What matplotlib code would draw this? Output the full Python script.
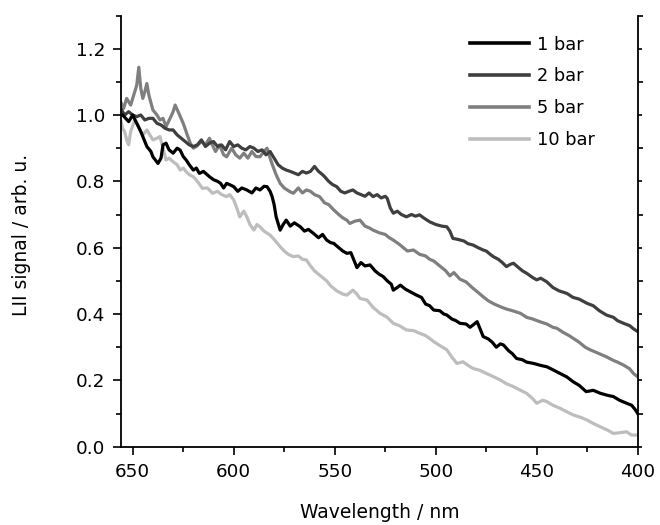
import matplotlib
matplotlib.use("Agg")
import matplotlib.pyplot as plt
from matplotlib.ticker import MultipleLocator

plt.rcParams['font.family'] = ['DejaVu Sans']

labels = ["1 bar", "2 bar", "5 bar", "10 bar"]
colors = ["#000000", "#3f3f3f", "#7f7f7f", "#bdbdbd"]

wl_1bar = [655, 652, 650, 648, 646, 643, 641, 640, 637.5, 636, 635, 633.5, 632, 630, 628, 626.5, 625, 623.5, 622, 620,
           618.5, 617, 615, 612, 610, 608, 606.5, 605, 603.5, 602, 600, 598, 596, 593.5, 591, 589, 587, 585, 583.5, 582,
           581, 580, 579, 577, 575.5, 574, 572, 570, 567, 565, 563, 560.5, 558, 556, 554, 552, 550.5, 548, 546, 544,
           542, 539, 537, 535, 532.5, 530, 528, 526, 524, 522, 521, 519, 517.5, 515, 512, 509.5, 507, 505, 503, 501,
           498, 496, 494.5, 492, 490, 488, 485, 483, 481.5, 479.5, 478, 476.5, 474, 472, 470, 468, 466.5, 464, 462, 460,
           457, 455, 451.5, 448, 445, 442, 438.5, 435, 432, 429, 425.5, 422, 418.5, 415, 412, 409, 405.5, 403, 401, 400]
sig_1bar = [1.00, 0.98, 1.00, 0.975, 0.95, 0.905, 0.89, 0.874, 0.854, 0.87, 0.91, 0.915, 0.895, 0.885, 0.90, 0.894, 0.875, 0.864, 0.85, 0.834,
            0.84, 0.824, 0.83, 0.814, 0.805, 0.80, 0.794, 0.78, 0.794, 0.79, 0.784, 0.77, 0.78, 0.774, 0.765, 0.78, 0.774, 0.785, 0.784, 0.77,
            0.754, 0.73, 0.693, 0.653, 0.67, 0.683, 0.665, 0.675, 0.663, 0.65, 0.655, 0.643, 0.63, 0.64, 0.623, 0.615, 0.613, 0.60, 0.59, 0.583,
            0.585, 0.54, 0.555, 0.545, 0.548, 0.53, 0.52, 0.513, 0.50, 0.49, 0.472, 0.48, 0.487, 0.475, 0.465, 0.457, 0.45, 0.43, 0.425, 0.412,
            0.41, 0.40, 0.397, 0.385, 0.38, 0.372, 0.37, 0.36, 0.367, 0.377, 0.355, 0.332, 0.325, 0.315, 0.30, 0.31, 0.307, 0.29, 0.28, 0.266,
            0.262, 0.255, 0.251, 0.245, 0.241, 0.232, 0.221, 0.21, 0.196, 0.185, 0.166, 0.17, 0.161, 0.155, 0.151, 0.14, 0.131, 0.125, 0.11, 0.10]

wl_2bar = [656, 654, 652, 650, 648, 646, 644, 642, 640, 638, 636, 634, 632, 630, 628, 626, 624, 622, 620, 618,
           616, 614, 612, 610, 608, 606, 604, 602, 600, 598, 596, 594, 592, 590, 588, 586, 584, 582, 580, 578,
           576, 574, 572, 570, 568, 566, 564, 562, 560, 558, 556, 555, 553, 551, 549, 547, 545, 543, 541, 539,
           537, 535, 533, 531, 529, 527, 525, 524, 522.5, 521, 519, 517, 514.5, 512, 510, 508, 506, 503, 500, 497,
           494.5, 493, 491.5, 489, 486, 484, 481.5, 479, 476.5, 475, 473, 471.5, 469, 467, 465, 463, 461.5, 459, 457, 455,
           452, 450, 448, 445, 442, 439, 435, 432, 429, 425, 422, 419, 415.5, 412, 410, 407, 404, 402, 400]
sig_2bar = [1.02, 1.00, 1.01, 1.00, 0.995, 1.00, 0.985, 0.99, 0.99, 0.975, 0.97, 0.96, 0.955, 0.955, 0.94, 0.93, 0.92, 0.91, 0.905, 0.91,
            0.925, 0.905, 0.915, 0.92, 0.905, 0.91, 0.895, 0.92, 0.905, 0.91, 0.90, 0.895, 0.905, 0.90, 0.89, 0.895, 0.88, 0.89, 0.87, 0.85,
            0.84, 0.834, 0.83, 0.825, 0.82, 0.83, 0.825, 0.83, 0.845, 0.83, 0.82, 0.814, 0.80, 0.79, 0.784, 0.77, 0.765, 0.77, 0.774, 0.765,
            0.76, 0.755, 0.765, 0.754, 0.76, 0.75, 0.755, 0.749, 0.72, 0.704, 0.71, 0.70, 0.693, 0.70, 0.695, 0.699, 0.69, 0.678, 0.67, 0.665,
            0.663, 0.65, 0.628, 0.625, 0.62, 0.612, 0.608, 0.60, 0.593, 0.59, 0.58, 0.573, 0.565, 0.555, 0.543, 0.55, 0.553, 0.54, 0.53, 0.523,
            0.51, 0.503, 0.508, 0.497, 0.48, 0.47, 0.462, 0.45, 0.445, 0.432, 0.425, 0.41, 0.397, 0.39, 0.38, 0.372, 0.365, 0.355, 0.347]

wl_5bar = [656, 654.5, 653, 651, 649, 648, 647, 646, 645, 644, 643, 642, 640, 638, 636.5, 635, 633.5, 631.5, 630, 629,
           627.5, 625, 623, 621.5, 620, 618.5, 616, 614, 612, 611, 609, 607, 605, 603.5, 601, 599, 597, 595, 593, 591,
           589, 587, 585, 583.5, 582, 580.5, 579, 577, 575, 572.5, 570.5, 568, 566, 564, 562, 560, 557.5, 555, 553, 550.5,
           548, 546, 544, 542.5, 540, 537.5, 535, 533, 531, 528, 525, 523, 521, 518, 516, 514, 511, 508, 505, 503,
           501, 498, 495, 493, 491, 488, 485, 482, 479, 476.5, 474, 471, 468, 465, 462, 458, 455, 452, 448.5, 445,
           442, 440, 437, 434, 432, 429, 426, 423.5, 420, 417, 415.5, 412, 410, 407, 404, 402, 400]
sig_5bar = [1.04, 1.02, 1.05, 1.03, 1.07, 1.09, 1.144, 1.08, 1.05, 1.07, 1.095, 1.06, 1.015, 1.00, 0.985, 0.99, 0.965, 0.99, 1.01, 1.03,
            1.01, 0.975, 0.94, 0.915, 0.90, 0.905, 0.92, 0.91, 0.93, 0.915, 0.89, 0.91, 0.88, 0.874, 0.90, 0.88, 0.87, 0.885, 0.87, 0.89,
            0.875, 0.874, 0.89, 0.90, 0.87, 0.844, 0.82, 0.794, 0.78, 0.77, 0.764, 0.78, 0.765, 0.774, 0.77, 0.76, 0.754, 0.735, 0.73, 0.714,
            0.70, 0.69, 0.683, 0.673, 0.68, 0.683, 0.665, 0.66, 0.653, 0.645, 0.64, 0.63, 0.623, 0.61, 0.60, 0.59, 0.593, 0.58, 0.575, 0.565,
            0.56, 0.545, 0.53, 0.515, 0.525, 0.505, 0.497, 0.48, 0.465, 0.452, 0.44, 0.43, 0.422, 0.415, 0.41, 0.402, 0.39, 0.385, 0.377, 0.37,
            0.36, 0.357, 0.345, 0.335, 0.327, 0.315, 0.30, 0.292, 0.283, 0.275, 0.271, 0.26, 0.255, 0.246, 0.235, 0.22, 0.211]

wl_10bar = [656, 655, 654, 653, 652, 651, 649, 647.5, 646, 645, 643, 641.5, 640, 638, 636.5, 635, 633.5, 632, 630, 628,
            626.5, 625, 623.5, 622, 620, 618, 615.5, 613, 610.5, 608, 606, 603.5, 602, 600, 598.5, 597, 595, 593.5, 592, 590,
            588.5, 587, 585, 582, 580, 577, 575, 573, 570.5, 568, 566, 564, 562, 560, 557, 554, 552, 549, 546, 544,
            541, 539, 537.5, 534, 531, 527.5, 524, 521, 518, 514.5, 511, 508, 505, 501, 498, 494.5, 492, 489.5, 486.5, 484,
            481.5, 478, 475, 471, 468, 465, 461.5, 458, 455, 452, 450, 447, 445, 442, 438.5, 435, 432, 428, 425, 422,
            418.5, 415, 412, 409, 405.5, 403, 400]
sig_10bar = [0.985, 0.96, 0.95, 0.925, 0.91, 0.95, 0.985, 0.97, 0.95, 0.94, 0.955, 0.94, 0.925, 0.93, 0.935, 0.90, 0.864, 0.87, 0.859, 0.85,
             0.834, 0.84, 0.829, 0.82, 0.814, 0.80, 0.779, 0.78, 0.764, 0.77, 0.76, 0.754, 0.76, 0.744, 0.72, 0.693, 0.71, 0.693, 0.67, 0.653,
             0.67, 0.663, 0.65, 0.638, 0.625, 0.603, 0.59, 0.58, 0.573, 0.575, 0.565, 0.563, 0.545, 0.53, 0.515, 0.50, 0.485, 0.47, 0.46, 0.457,
             0.472, 0.46, 0.447, 0.442, 0.42, 0.402, 0.39, 0.372, 0.365, 0.352, 0.35, 0.342, 0.335, 0.317, 0.305, 0.292, 0.27, 0.251, 0.256, 0.245,
             0.236, 0.23, 0.221, 0.21, 0.201, 0.19, 0.181, 0.17, 0.161, 0.145, 0.131, 0.14, 0.136, 0.125, 0.116, 0.105, 0.096, 0.088, 0.08, 0.07,
             0.06, 0.05, 0.04, 0.042, 0.045, 0.035, 0.035]

series = [(wl_1bar, sig_1bar), (wl_2bar, sig_2bar), (wl_5bar, sig_5bar), (wl_10bar, sig_10bar)]

fig = plt.figure(figsize=(6.6, 5.25), dpi=100)
ax = fig.add_axes([121 / 660, 1 - 446.7 / 525, (637.7 - 121) / 660, (446.7 - 15.5) / 525])

order = [3, 2, 1, 0]
handles = {}
for i in order:
    x, y = series[i]
    h, = ax.plot(x, y, color=colors[i], lw=2.3, label=labels[i], solid_joinstyle='round')
    handles[i] = h

ax.set_xlim(655.8, 400)
ax.set_ylim(0, 1.3)
ax.xaxis.set_major_locator(MultipleLocator(50))
ax.xaxis.set_minor_locator(MultipleLocator(25))
ax.yaxis.set_major_locator(MultipleLocator(0.2))
ax.yaxis.set_minor_locator(MultipleLocator(0.1))
ax.yaxis.set_major_formatter(matplotlib.ticker.FormatStrFormatter('%.1f'))

ax.spines['top'].set_visible(False)
for s in ['left', 'bottom', 'right']:
    ax.spines[s].set_linewidth(1.3)

ax.tick_params(axis='both', which='major', direction='out', length=6, width=1.2, labelsize=13.2, pad=5.5)
ax.tick_params(axis='both', which='minor', direction='out', length=3.5, width=1.2)
ax.tick_params(axis='y', which='both', right=True, labelright=False)
for t in ax.yaxis.get_major_ticks():
    t.tick2line.set_markersize(3)

ax.set_xlabel("Wavelength / nm", fontsize=13.5)
ax.set_ylabel("LII signal / arb. u.", fontsize=13.5)
ax.xaxis.label.set_verticalalignment('center')
ax.xaxis.set_label_coords(0.5, -0.153)
ax.yaxis.label.set_verticalalignment('center')
ax.yaxis.set_label_coords(-0.1935, 0.49)

leg = ax.legend([handles[i] for i in range(4)], labels, loc='upper left', frameon=False,
                fontsize=12.8, handlelength=3.3, handletextpad=0.45, labelspacing=0.78,
                borderaxespad=0, borderpad=0,
                bbox_to_anchor=((470 - 121) / 516.7, (446.7 - 35.5) / 431.2))
for lh in leg.get_lines():
    lh.set_linewidth(2.6)

fig.savefig("out.png", dpi=100)
